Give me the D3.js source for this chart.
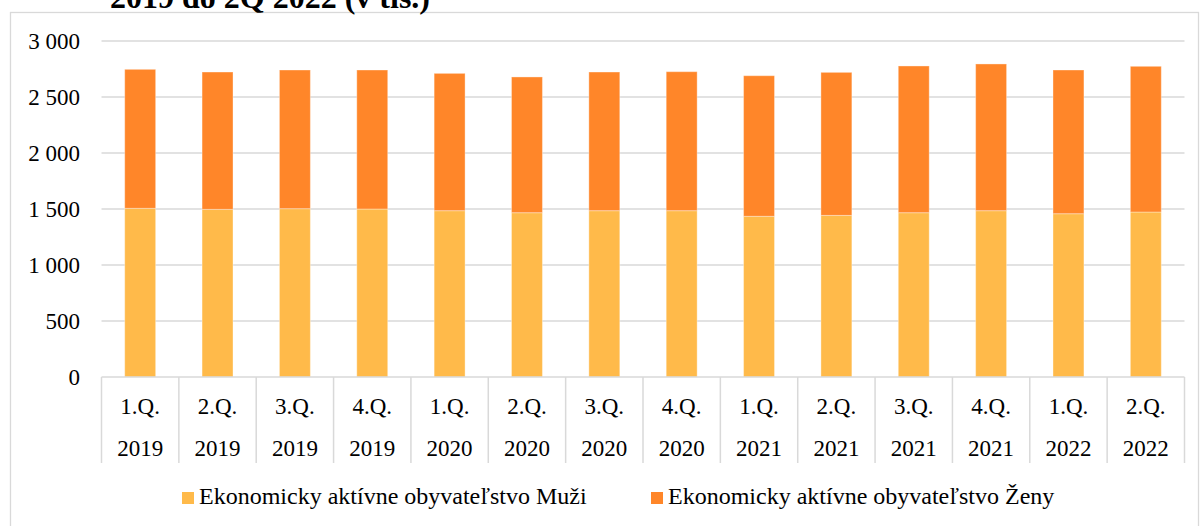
<!DOCTYPE html>
<html>
<head>
<meta charset="utf-8">
<script src="https://cdn.jsdelivr.net/npm/d3@7"></script>
<style>
  html, body { margin: 0; padding: 0; background: #fff; }
  svg { display: block; font-family: "Liberation Serif", "Times New Roman", serif; }
  text { font-family: "Liberation Serif", "Times New Roman", serif; fill: #000; }
</style>
</head>
<body>
<svg id="chart" width="1201" height="526"></svg>
<script>
// Quarterly economically active population (thousands), by sex
const quarters = ["1.Q.", "2.Q.", "3.Q.", "4.Q.", "1.Q.", "2.Q.", "3.Q.", "4.Q.", "1.Q.", "2.Q.", "3.Q.", "4.Q.", "1.Q.", "2.Q."];
const years    = ["2019", "2019", "2019", "2019", "2020", "2020", "2020", "2020", "2021", "2021", "2021", "2021", "2022", "2022"];
const muzi  = [1506, 1497, 1503, 1500, 1485, 1467, 1485, 1485, 1435, 1443, 1467, 1485, 1458, 1473];
const zeny  = [1241, 1226, 1238, 1241, 1226, 1212, 1238, 1241, 1255, 1277, 1310, 1310, 1283, 1301];
const yTicks = [0, 500, 1000, 1500, 2000, 2500, 3000];
const seriesNames = ["Ekonomicky aktívne obyvateľstvo Muži", "Ekonomicky aktívne obyvateľstvo Ženy"];
const seriesColors = ["#FFBA4A", "#FF8629"];
const titleText = "2019 do 2Q 2022 (v tis.)";

const svg = d3.select("#chart");
const gridColor = "#d9d9d9";

// chart frame
svg.append("rect")
  .attr("x", 10.5).attr("y", 12.5)
  .attr("width", 1188).attr("height", 540)
  .attr("fill", "none").attr("stroke", gridColor).attr("stroke-width", 1.3);

// title (runs off the top edge)
svg.append("text")
  .attr("x", 110).attr("y", 8)
  .attr("font-size", 32).attr("font-weight", "bold")
  .text(titleText);

const plot = { left: 101.5, right: 1184.5, top: 41, bottom: 377 };

const keys = quarters.map((q, i) => i);
const x = d3.scaleBand().domain(keys).range([plot.left, plot.right])
  .paddingInner(0.6).paddingOuter(0.3);
const y = d3.scaleLinear().domain([0, 3000]).range([plot.bottom, plot.top]);

const locale = d3.formatLocale({ decimal: ",", thousands: " ", grouping: [3], currency: ["", ""] });
const fmt = locale.format(",d");

// gridlines
svg.append("g").selectAll("line").data(yTicks.filter(t => t > 0)).join("line")
  .attr("x1", plot.left).attr("x2", plot.right)
  .attr("y1", d => y(d)).attr("y2", d => y(d))
  .attr("stroke", gridColor).attr("stroke-width", 1.5);

// y axis labels
const yAxis = d3.axisLeft(y).tickValues(yTicks).tickFormat(fmt).tickSize(0).tickPadding(0);
const gy = svg.append("g").attr("transform", "translate(80,0)").call(yAxis);
gy.attr("font-family", null).attr("font-size", null);
gy.select(".domain").remove();
gy.selectAll("text").attr("font-size", 23).attr("fill", "#000");

// stacked bars
const rows = keys.map(i => ({ i, muzi: muzi[i], zeny: zeny[i] }));
const stack = d3.stack().keys(["muzi", "zeny"])(rows);
svg.append("g").selectAll("g").data(stack).join("g")
  .attr("fill", (d, k) => seriesColors[k])
  .selectAll("rect").data(d => d).join("rect")
  .attr("x", d => x(d.data.i))
  .attr("width", x.bandwidth())
  .attr("y", d => y(d[1]))
  .attr("height", d => y(d[0]) - y(d[1]))
  .attr("stroke", "#fff").attr("stroke-opacity", 0.35).attr("stroke-width", 1);

// category axis: baseline and separators
svg.append("line")
  .attr("x1", plot.left).attr("x2", plot.right)
  .attr("y1", plot.bottom).attr("y2", plot.bottom)
  .attr("stroke", gridColor).attr("stroke-width", 1.5);
const step = x.step();
const bounds = keys.map(i => x(i) - (step - x.bandwidth()) / 2).concat([plot.right]);
svg.append("g").selectAll("line").data(bounds).join("line")
  .attr("x1", d => d).attr("x2", d => d)
  .attr("y1", plot.bottom).attr("y2", 463)
  .attr("stroke", gridColor).attr("stroke-width", 1.5);

const xl = svg.append("g").selectAll("g").data(keys).join("g")
  .attr("transform", i => `translate(${x(i) + x.bandwidth() / 2},0)`);
xl.append("text").attr("y", 414).attr("text-anchor", "middle").attr("font-size", 23)
  .text(i => quarters[i]);
xl.append("text").attr("y", 456).attr("text-anchor", "middle").attr("font-size", 23)
  .text(i => years[i]);

// legend
const legendX = [182, 651];
const lg = svg.append("g").selectAll("g").data(seriesNames).join("g")
  .attr("transform", (d, k) => `translate(${legendX[k]},0)`);
lg.append("rect").attr("x", 0).attr("y", 492).attr("width", 12).attr("height", 12)
  .attr("fill", (d, k) => seriesColors[k]);
lg.append("text").attr("x", 17).attr("y", 504).attr("font-size", 24).text(d => d);
</script>
</body>
</html>
